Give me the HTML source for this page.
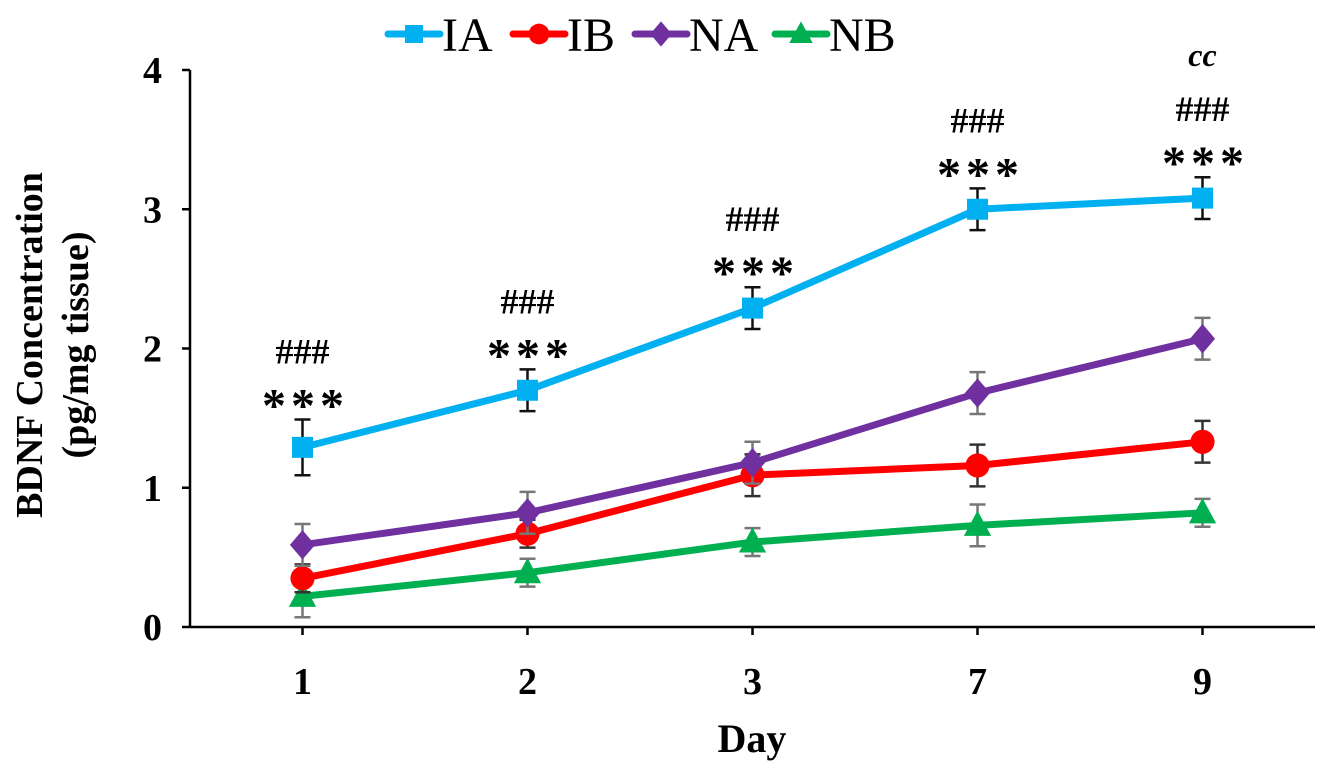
<!DOCTYPE html>
<html><head><meta charset="utf-8"><style>
body{margin:0;background:#fff;}
svg text{font-family:"Liberation Serif",serif;}
</style></head><body>
<svg id="chart" width="1329" height="776" viewBox="0 0 1329 776" xmlns="http://www.w3.org/2000/svg">
<g id="axes"></g><g id="plot"></g><g id="legend"></g>
</svg>
<script>
const categories=["1","2","3","7","9"];
const yTicks=[0,1,2,3,4];
const seriesNames=["IA","IB","NA","NB"];
const iaValues=[1.29,1.70,2.29,3.00,3.08];
const iaErrors=[0.2,0.15,0.15,0.15,0.15];
const ibValues=[0.35,0.67,1.09,1.16,1.33];
const ibErrors=[0.1,0.1,0.15,0.15,0.15];
const naValues=[0.59,0.82,1.18,1.68,2.07];
const naErrors=[0.15,0.15,0.15,0.15,0.15];
const nbValues=[0.22,0.39,0.61,0.73,0.82];
const nbErrors=[0.15,0.1,0.1,0.15,0.1];
const hashLabels=["###","###","###","###","###"];
const starLabels=["***","***","***","***","***"];

const NS="http://www.w3.org/2000/svg";
const x0=190,bw=225,yBase=627,yUnit=139.25;
const xs=i=>x0+bw*(i+0.5);
const ys=v=>yBase-v*yUnit;
function mk(tag,attrs,parent){const e=document.createElementNS(NS,tag);for(const k in attrs)e.setAttribute(k,attrs[k]);parent.appendChild(e);return e;}
const axes=document.getElementById('axes'),plot=document.getElementById('plot'),legend=document.getElementById('legend');

let a=mk('line',{x1:x0,y1:ys(4),x2:x0,y2:yBase,stroke:'#000','stroke-width':2.5},axes);

a=mk('line',{x1:x0,y1:yBase,x2:x0+bw*5,y2:yBase,stroke:'#000','stroke-width':2.5},axes);

yTicks.forEach(t=>{
 let l=mk('line',{x1:x0-8,y1:ys(t),x2:x0,y2:ys(t),stroke:'#000','stroke-width':2.5},axes);
 
 let tx=mk('text',{x:x0-28,y:ys(t)+13,'text-anchor':'end','font-size':38,'font-weight':'bold'},axes);tx.textContent=t;
 
});
categories.forEach((c,i)=>{
 let l=mk('line',{x1:xs(i),y1:yBase,x2:xs(i),y2:yBase+8,stroke:'#000','stroke-width':2.5},axes);
 
 let tx=mk('text',{x:xs(i),y:694,'text-anchor':'middle','font-size':38,'font-weight':'bold'},axes);tx.textContent=c;
 
});
let xt=mk('text',{x:752,y:752,'text-anchor':'middle','font-size':40,'font-weight':'bold'},axes);xt.textContent="Day";

let yt=mk('text',{transform:'translate(42,345) rotate(-90)','text-anchor':'middle','font-size':38,'font-weight':'bold'},axes);

let t1=mk('tspan',{x:0,y:0},yt);t1.textContent="BDNF Concentration";
let t2=mk('tspan',{x:0,y:46},yt);t2.textContent="(pg/mg tissue)";

const colors=["#00b0f0","#ff0000","#7030a0","#00b050"];
const errColors=["#111","#333","#777","#777"];
const vals=[iaValues,ibValues,naValues,nbValues],errs=[iaErrors,ibErrors,naErrors,nbErrors];
function marker(k,cx,cy,s,parent){
 if(k===0)return mk('rect',{x:cx-s,y:cy-s,width:2*s,height:2*s,fill:colors[0]},parent);
 if(k===1)return mk('circle',{cx:cx,cy:cy,r:s*1.15,fill:colors[1]},parent);
 if(k===2)return mk('polygon',{points:`${cx},${cy-s*1.4} ${cx+s*1.2},${cy} ${cx},${cy+s*1.4} ${cx-s*1.2},${cy}`,fill:colors[2]},parent);
 return mk('polygon',{points:`${cx},${cy-s*1.4} ${cx+s*1.3},${cy+s} ${cx-s*1.3},${cy+s}`,fill:colors[3]},parent);
}
[3,1,2,0].forEach(k=>{
 const g=mk('g',{},plot);
 vals[k].forEach((v,i)=>{
  const e=errs[k][i],c=errColors[k];
  let eb=mk('path',{d:`M${xs(i)},${ys(v+e)}V${ys(v-e)}M${xs(i)-8},${ys(v+e)}h16M${xs(i)-8},${ys(v-e)}h16`,stroke:c,'stroke-width':2.5,fill:'none'},g);
  
 });
 let p=mk('polyline',{points:vals[k].map((v,i)=>xs(i)+','+ys(v)).join(' '),fill:'none',stroke:colors[k],'stroke-width':7,'stroke-linejoin':'round'},g);
 
 vals[k].forEach((v,i)=>{let m=marker(k,xs(i),ys(v),10.5,g);
  });
});
iaValues.forEach((v,i)=>{
 const top=ys(v+iaErrors[i]);
 let s=mk('text',{x:xs(i)+3,y:top+2,'text-anchor':'middle','font-size':48,'font-weight':'bold','letter-spacing':5},plot);s.textContent=starLabels[i];
 
 let h=mk('text',{x:xs(i),y:top-56,'text-anchor':'middle','font-size':36,'font-weight':600},plot);h.textContent=hashLabels[i];
 
});
let cc=mk('text',{x:xs(4),y:ys(4)-4,'text-anchor':'middle','font-size':32,'font-style':'italic','font-weight':'bold'},plot);cc.textContent="cc";


const lx=[388,513,635,775];
seriesNames.forEach((n,k)=>{
 const g=mk('g',{},legend);
 mk('line',{x1:lx[k],y1:34,x2:lx[k]+52,y2:34,stroke:colors[k],'stroke-width':7,'stroke-linecap':'round'},g);
 marker(k,lx[k]+26,34,9,g);
 let t=mk('text',{x:lx[k]+54,y:51,'font-size':48},g);t.textContent=n;
});
</script>
</body></html>
